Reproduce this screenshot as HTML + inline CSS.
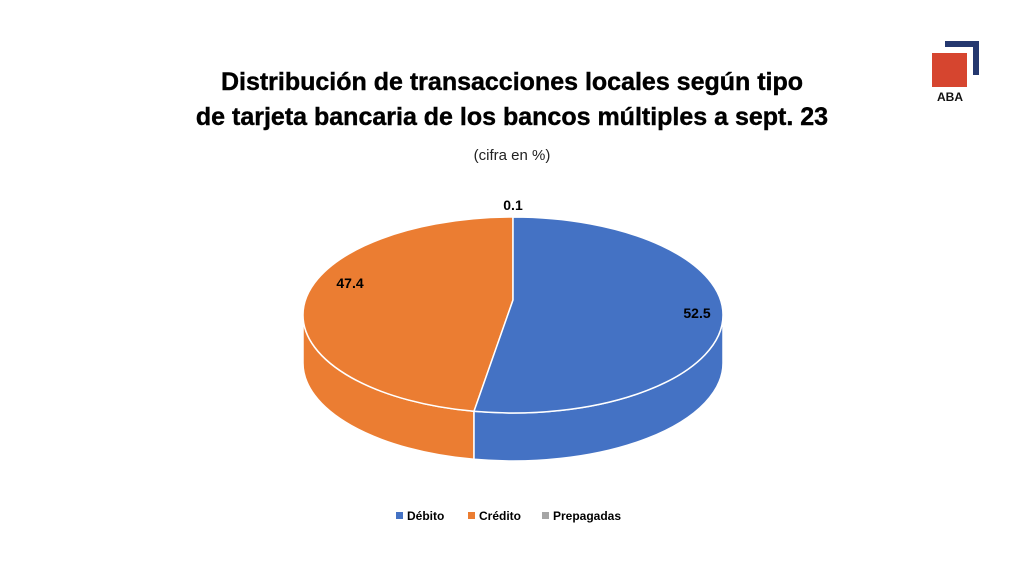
<!DOCTYPE html>
<html><head><meta charset="utf-8"><style>
body{margin:0;width:1024px;height:576px;background:#fff;font-family:"Liberation Sans",sans-serif;overflow:hidden}
</style></head><body>
<svg width="1024" height="576" xmlns="http://www.w3.org/2000/svg">
<text x="512" y="90" text-anchor="middle" font-size="25" font-weight="bold" fill="#000" stroke="#000" stroke-width="0.4">Distribución de transacciones locales según tipo</text>
<text x="512" y="125" text-anchor="middle" font-size="25" font-weight="bold" fill="#000" stroke="#000" stroke-width="0.4">de tarjeta bancaria de los bancos múltiples a sept. 23</text>
<text x="512" y="160" text-anchor="middle" font-size="15" fill="#222">(cifra en %)</text>
<path d="M945,41 H979 V75 H973 V47 H945 Z" fill="#24386f"/>
<rect x="932" y="53" width="35" height="34" fill="#d6452f"/>
<text x="950" y="101" text-anchor="middle" font-size="12" font-weight="bold" fill="#111">ABA</text>
<path d="M303,315 V363 A210,98 0 0 0 474,459.3 V411.3 A210,98 0 0 1 303,315 Z" fill="#eb7d32" stroke="#fff" stroke-width="1.5"/>
<path d="M474,411.3 V459.3 A210,98 0 0 0 723,363 V315 A210,98 0 0 1 474,411.3 Z" fill="#4472c4" stroke="#fff" stroke-width="1.5"/>
<path d="M513,217 L513,300 L474,411.3 A210,98 0 0 1 303,315 A210,98 0 0 1 513,217 Z" fill="#eb7d32" stroke="#fff" stroke-width="1.5"/>
<path d="M513,217 A210,98 0 0 1 723,315 A210,98 0 0 1 474,411.3 L513,300 Z" fill="#4472c4" stroke="#fff" stroke-width="1.5"/>
<text x="513" y="210" text-anchor="middle" font-size="14" font-weight="bold">0.1</text>
<text x="350" y="288" text-anchor="middle" font-size="14" font-weight="bold">47.4</text>
<text x="697" y="318" text-anchor="middle" font-size="14" font-weight="bold">52.5</text>
<rect x="396" y="512" width="7" height="7" fill="#4472c4"/>
<text x="407" y="520" font-size="12" font-weight="bold">Débito</text>
<rect x="468" y="512" width="7" height="7" fill="#eb7d32"/>
<text x="479" y="520" font-size="12" font-weight="bold">Crédito</text>
<rect x="542" y="512" width="7" height="7" fill="#a5a5a5"/>
<text x="553" y="520" font-size="12" font-weight="bold">Prepagadas</text>
</svg>
</body></html>
